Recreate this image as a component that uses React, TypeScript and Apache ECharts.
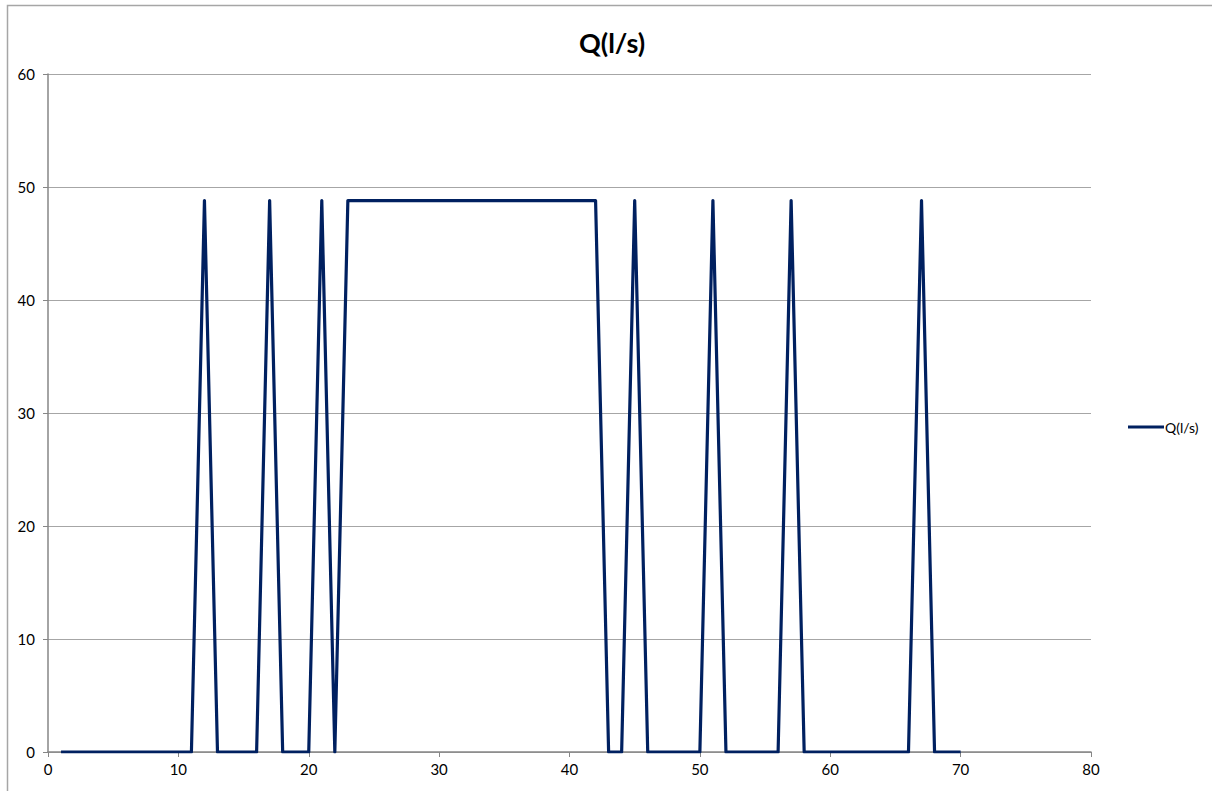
import React, { useEffect, useRef } from "react";
import * as echarts from "echarts";

const xValues = [
  1, 2, 3, 4, 5, 6, 7, 8, 9, 10, 11, 12, 13, 14, 15, 16, 17, 18, 19, 20,
  21, 22, 23, 24, 25, 26, 27, 28, 29, 30, 31, 32, 33, 34, 35, 36, 37, 38, 39, 40,
  41, 42, 43, 44, 45, 46, 47, 48, 49, 50, 51, 52, 53, 54, 55, 56, 57, 58, 59, 60,
  61, 62, 63, 64, 65, 66, 67, 68, 69, 70,
];
const qValues = [
  0, 0, 0, 0, 0, 0, 0, 0, 0, 0, 0, 48.8, 0, 0, 0, 0, 48.8, 0, 0, 0,
  48.8, 0, 48.8, 48.8, 48.8, 48.8, 48.8, 48.8, 48.8, 48.8, 48.8, 48.8, 48.8, 48.8, 48.8, 48.8, 48.8, 48.8, 48.8, 48.8,
  48.8, 48.8, 0, 0, 48.8, 0, 0, 0, 0, 0, 48.8, 0, 0, 0, 0, 0, 48.8, 0, 0, 0,
  0, 0, 0, 0, 0, 0, 48.8, 0, 0, 0,
];
const seriesName = "Q(l/s)";
const titleText = "Q(l/s)";

export default function App() {
  const ref = useRef<HTMLDivElement>(null);
  useEffect(() => {
    if (!ref.current) return;
    const chart = echarts.init(ref.current, null, { renderer: "svg" });
    const font = "Lato, 'Open Sans', sans-serif";
    chart.setOption({
      animation: false,
      backgroundColor: "#ffffff",
      textStyle: { fontFamily: font },
      title: {
        text: titleText,
        left: 607,
        textAlign: "center",
        top: 24,
        textStyle: { fontSize: 27, fontWeight: "bold", color: "#000", fontFamily: font },
      },
      legend: {
        left: 1123,
        top: 415,
        orient: "vertical",
        itemWidth: 36,
        itemHeight: 3,
        itemGap: 4,
        icon: "rect",
        textStyle: { fontSize: 14, color: "#000", padding: [0, 0, 0, -4], fontFamily: font },
        data: [{ name: seriesName, icon: "rect" }],
      },
      grid: { left: 48, right: 121, top: 74, bottom: 39, containLabel: false },
      xAxis: {
        type: "value",
        min: 0,
        max: 80,
        interval: 10,
        axisLine: { show: true, lineStyle: { color: "#868686", width: 1.5 } },
        axisTick: { show: true, length: 5, lineStyle: { color: "#868686" } },
        axisLabel: { fontSize: 15, color: "#000", margin: 9, fontFamily: font },
        splitLine: { show: false },
      },
      yAxis: {
        type: "value",
        min: 0,
        max: 60,
        interval: 10,
        axisLine: { show: true, lineStyle: { color: "#868686", width: 1.5 } },
        axisTick: { show: true, length: 5, lineStyle: { color: "#868686" } },
        axisLabel: { fontSize: 15, color: "#000", margin: 13, fontFamily: font },
        splitLine: { show: true, lineStyle: { color: "#a6a6a6", width: 1.2 } },
      },
      graphic: [
        {
          type: "polyline",
          shape: { points: [[7.5, 800], [7.5, 5.5], [1220, 5.5]] },
          style: { fill: "none", stroke: "#a6a6a6", lineWidth: 1.5 },
          silent: true,
          z: -10,
        },
      ],
      series: [
        {
          name: seriesName,
          type: "line",
          data: xValues.map((x, i) => [x, qValues[i]]),
          showSymbol: false,
          symbol: "none",
          lineStyle: { color: "#002060", width: 3.2, join: "round" },
          itemStyle: { color: "#002060" },
        },
      ],
    });
    return () => chart.dispose();
  }, []);
  return (
    <div
      ref={ref}
      style={{ position: "absolute", left: 0, top: 0, width: 1212, height: 791 }}
    />
  );
}
